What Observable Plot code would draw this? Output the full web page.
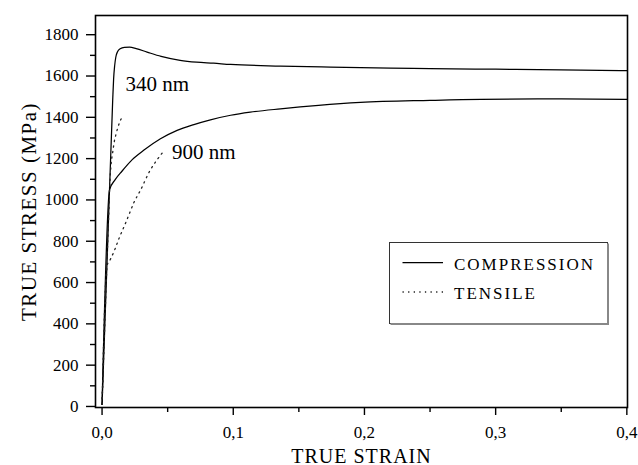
<!DOCTYPE html>
<html>
<head>
<meta charset="utf-8">
<script src="https://cdn.jsdelivr.net/npm/d3@7"></script>
<script src="https://cdn.jsdelivr.net/npm/@observablehq/plot@0.6"></script>
<style>
  html, body { margin: 0; padding: 0; background: white; }
  #wrap { position: relative; width: 638px; height: 465px; font-family: "Liberation Serif", serif; }
  #legend { position: absolute; left: 389px; top: 242px; }
</style>
</head>
<body>
<div id="wrap"></div>
<script>
// ---- data (strain, stress MPa) ----
const comp340 = [
  [0,10],[0.0040,735],[0.0081,1482],[0.0088,1585],[0.0096,1650],[0.0105,1692],[0.0118,1718],
  [0.0138,1732],[0.017,1739],[0.021,1740],[0.026,1733],[0.0343,1716],[0.045,1695],[0.0595,1676],
  [0.072,1667],[0.085,1662],[0.098,1656],[0.136,1648],[0.174,1643],[0.22,1638],[0.25,1636],
  [0.3,1633],[0.35,1630],[0.4,1626]
];
const comp900 = [
  [0,10],[0.0057,1049],[0.0100,1098],[0.0153,1140],[0.0230,1195],[0.0317,1240],[0.0445,1296],
  [0.0572,1337],[0.0700,1365],[0.0826,1388],[0.098,1410],[0.113,1425],[0.136,1441],[0.165,1458],
  [0.197,1472],[0.25,1482],[0.289,1487],[0.35,1489],[0.4,1487]
];
const tens340 = [
  [0,10],[0.0050,915],[0.0061,1100],[0.0070,1180],[0.0081,1230],[0.0094,1285],[0.0107,1320],
  [0.0120,1350],[0.0135,1378],[0.0157,1405]
];
const tens900 = [
  [0,10],[0.0037,680],[0.0063,712],[0.0096,758],[0.0132,818],[0.0170,874],[0.0206,930],
  [0.0241,985],[0.0292,1046],[0.0368,1145],[0.0420,1195],[0.0475,1240]
];
const annotations = [
  {label: "340 nm", strain: 0.0178, stress: 1559},
  {label: "900 nm", strain: 0.0534, stress: 1232}
];
const xMajor = [0, 0.1, 0.2, 0.3, 0.4];
const xMinor = [0.05, 0.15, 0.25, 0.35];
const yMajor = [0, 200, 400, 600, 800, 1000, 1200, 1400, 1600, 1800];
const yMinor = [100, 300, 500, 700, 900, 1100, 1300, 1500, 1700];
const xTitle = "TRUE STRAIN";
const yTitle = "TRUE STRESS (MPa)";
const legendItems = [
  {label: "COMPRESSION", dash: null},
  {label: "TENSILE", dash: "1.3,4.3"}
];

const fmt = d => d.toFixed(1).replace(".", ",");
const X = d => d[0], Y = d => d[1];
const dotted = "1.3,4.3";

const chart = Plot.plot({
  width: 638,
  height: 465,
  marginLeft: 95,
  marginRight: 11,
  marginTop: 15,
  marginBottom: 58,
  style: {fontFamily: "Liberation Serif", background: "white", color: "black", overflow: "visible"},
  x: {domain: [-0.005, 0.4005]},
  y: {domain: [-5, 1893]},
  marks: [
    Plot.frame({stroke: "black", strokeWidth: 1.6}),
    Plot.axisX({ticks: xMajor, tickSize: 8, tickPadding: 10, tickFormat: fmt, fontSize: 17, label: null, strokeWidth: 1.4}),
    Plot.axisX({ticks: xMinor, tickSize: 5, tickFormat: () => "", label: null, strokeWidth: 1.4}),
    Plot.axisY({ticks: yMajor, tickSize: 9, tickPadding: 8, tickFormat: d => String(d), fontSize: 17, label: null, strokeWidth: 1.4}),
    Plot.axisY({ticks: yMinor, tickSize: 5, tickFormat: () => "", label: null, strokeWidth: 1.4}),
    Plot.line(comp340, {x: X, y: Y, stroke: "black", strokeWidth: 1.25, curve: "monotone-x"}),
    Plot.line(comp900, {x: X, y: Y, stroke: "black", strokeWidth: 1.25, curve: "monotone-x"}),
    Plot.line(tens340, {x: X, y: Y, stroke: "#222", strokeWidth: 1.3, strokeDasharray: dotted, curve: "monotone-x"}),
    Plot.line(tens900, {x: X, y: Y, stroke: "#222", strokeWidth: 1.3, strokeDasharray: dotted, curve: "monotone-x"}),
    Plot.text(annotations, {x: "strain", y: "stress", text: "label", textAnchor: "start", fontSize: 21, fill: "black"}),
    Plot.text([xTitle], {frameAnchor: "bottom", dy: 55, textAnchor: "middle", lineAnchor: "bottom", fontSize: 20, fill: "black"}),
    Plot.text([yTitle], {frameAnchor: "left", dx: -66, textAnchor: "middle", lineAnchor: "middle", rotate: -90, fontSize: 21, fill: "black"})
  ]
});

const wrap = document.getElementById("wrap");
wrap.appendChild(chart);

// letter-spacing for titles
d3.select(chart).selectAll("text").filter(function() { return this.textContent === xTitle; }).attr("letter-spacing", "1px");
d3.select(chart).selectAll("text").filter(function() { return this.textContent === yTitle; }).attr("letter-spacing", "1.5px");

// legend box (HTML overlay svg)
const lg = d3.select(wrap).append("svg")
  .attr("id", "legend")
  .attr("width", 221).attr("height", 84);
lg.append("rect").attr("x", 0.5).attr("y", 0.5).attr("width", 218).attr("height", 81)
  .attr("fill", "white").attr("stroke", "#333").attr("stroke-width", 1);
lg.append("path").attr("d", "M219,1.5 V82 H1.5").attr("fill", "none").attr("stroke", "#888").attr("stroke-width", 2);
legendItems.forEach((it, i) => {
  const yy = 20.5 + i * 29.5;
  const ln = lg.append("line").attr("x1", 13.5).attr("x2", 54).attr("y1", yy).attr("y2", yy)
    .attr("stroke", it.dash ? "#222" : "black").attr("stroke-width", it.dash ? 1.3 : 1.25);
  if (it.dash) ln.attr("stroke-dasharray", it.dash);
  lg.append("text").attr("x", 65).attr("y", yy + 7)
    .attr("font-family", "Liberation Serif").attr("font-size", 17).attr("letter-spacing", "2px")
    .attr("fill", "black").text(it.label);
});
</script>
</body>
</html>
